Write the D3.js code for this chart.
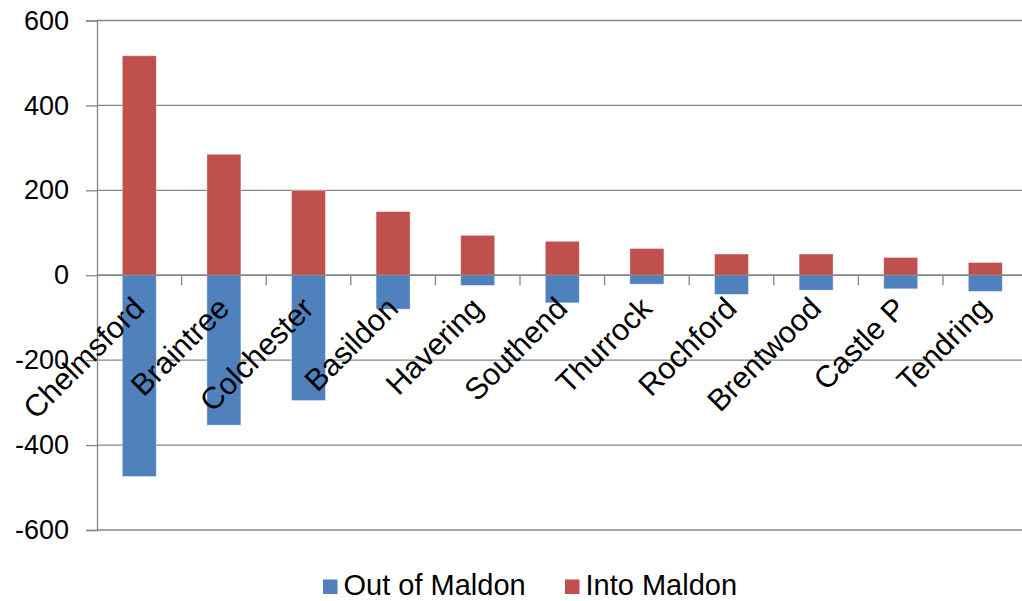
<!DOCTYPE html>
<html><head><meta charset="utf-8">
<script src="https://cdn.jsdelivr.net/npm/d3@7"></script>
<style>body{margin:0;background:#fff}svg{display:block}text{font-family:"Liberation Sans",Arial,sans-serif;fill:#000}</style>
</head><body>
<svg id="c" width="1022" height="601"></svg>
<script>
const categories = ["Chelmsford","Braintree","Colchester","Basildon","Havering","Southend","Thurrock","Rochford","Brentwood","Castle P","Tendring"];
const outOfMaldon = [-474,-353,-295,-80,-24,-65,-21,-45,-35,-32,-38];
const intoMaldon = [517,285,200,150,94,80,63,50,50,42,30];
const yTicks = [-600,-400,-200,0,200,400,600];
const seriesNames = ["Out of Maldon","Into Maldon"];
const colors = ["#4F81BD","#C0504D"];

const svg = d3.select("#c");
const plotL = 97, plotR = 1027.6, plotT = 20.5, plotB = 530;
const y = d3.scaleLinear().domain([-600,600]).range([plotB, plotT]);
const x = d3.scaleBand().domain(categories).range([plotL, plotR]).paddingInner(0.598).paddingOuter(0.299);
const grid = "#868686";

// gridlines + y axis
const yAxis = d3.axisLeft(y).tickValues(yTicks).tickSize(11).tickPadding(17).tickFormat(d => String(d));
const ga = svg.append("g").attr("transform", `translate(${plotL},0)`).call(yAxis);
ga.select(".domain").attr("stroke", grid).attr("stroke-width", 1.3);
ga.selectAll(".tick line").attr("stroke", grid).attr("stroke-width", 1.3);
ga.selectAll(".tick text").attr("font-size", 27).attr("font-family", '"Liberation Sans",Arial,sans-serif').attr("fill", "#000");
svg.append("g").selectAll("line").data(yTicks).join("line")
  .attr("x1", plotL).attr("x2", plotR).attr("y1", d => y(d)).attr("y2", d => y(d))
  .attr("stroke", grid).attr("stroke-width", 1.3);

// bars
const series = [outOfMaldon, intoMaldon];
series.forEach((vals, si) => {
  svg.append("g").selectAll("rect").data(vals).join("rect")
    .attr("x", (d,i) => x(categories[i]))
    .attr("width", x.bandwidth())
    .attr("y", d => y(Math.max(0,d)))
    .attr("height", d => Math.abs(y(d) - y(0)))
    .attr("fill", colors[si])
    .attr("stroke", "#ffffff").attr("stroke-opacity", 0.5).attr("stroke-width", 0.8);
});

// zero axis line and category ticks
svg.append("line").attr("x1", plotL).attr("x2", plotR).attr("y1", y(0)).attr("y2", y(0)).attr("stroke", grid).attr("stroke-width", 1.3);
const bounds = d3.range(categories.length + 1).map(i => plotL + i * x.step());
svg.append("g").selectAll("line").data(bounds.slice(1)).join("line")
  .attr("x1", d => d).attr("x2", d => d).attr("y1", y(0)).attr("y2", y(0) + 10)
  .attr("stroke", grid).attr("stroke-width", 1.3);

// category labels
svg.append("g").selectAll("text").data(categories).join("text")
  .attr("transform", d => `translate(${x(d) + x.bandwidth()/2 + 7},${y(0) + 35}) rotate(-45)`)
  .attr("text-anchor", "end")
  .attr("font-size", 30.5).text(d => d);

// legend
const legendX = [323, 565];
const lg = svg.append("g");
seriesNames.forEach((n, i) => {
  lg.append("rect").attr("x", legendX[i]).attr("y", 579.5).attr("width", 14.5).attr("height", 14.5).attr("fill", colors[i]);
  lg.append("text").attr("x", legendX[i] + 20.5).attr("y", 595).attr("font-size", 29).text(n);
});
</script>
</body></html>
